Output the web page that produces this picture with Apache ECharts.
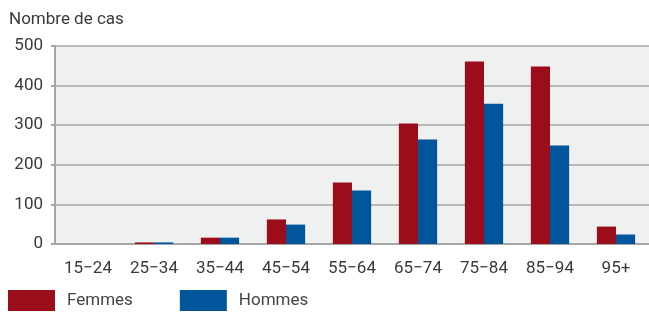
<!DOCTYPE html>
<html>
<head>
<meta charset="utf-8">
<script src="https://cdn.jsdelivr.net/npm/echarts@6/dist/echarts.min.js"></script>
<style>
  html, body { margin: 0; padding: 0; background: #fff; }
  #chart { width: 649px; height: 313px; }
</style>
</head>
<body>
<div id="chart"></div>
<script>
var categories = ['15−24', '25−34', '35−44', '45−54', '55−64', '65−74', '75−84', '85−94', '95+'];
var femmes = [0, 4, 16, 62, 155, 304, 461, 448, 44];
var hommes = [0, 4, 16, 49, 135, 264, 354, 249, 24];
var yTicks = [0, 100, 200, 300, 400, 500];

var chart = echarts.init(document.getElementById('chart'));
chart.setOption({
  animation: false,
  textStyle: { fontFamily: 'Roboto' },
  color: ['#9b0d1b', '#00559b'],
  title: {
    text: 'Nombre de cas',
    left: 9, top: 11, padding: 0,
    textStyle: { fontSize: 17, fontWeight: 'normal', color: '#3a3a3a' }
  },
  legend: {
    left: 8, bottom: 2, padding: 0,
    itemWidth: 47, itemHeight: 21, itemGap: 47,
    icon: 'rect',
    textStyle: { fontSize: 17, color: '#444', padding: [0, 0, 0, 7] },
    data: ['Femmes', 'Hommes']
  },
  grid: {
    left: 55, right: 0, top: 46, bottom: 69,
    show: true, backgroundColor: '#eff1f0', borderWidth: 0
  },
  xAxis: {
    type: 'category',
    data: categories,
    axisLine: { lineStyle: { color: '#a6a6a6', width: 2 } },
    axisTick: { show: false },
    axisLabel: { fontSize: 17, color: '#3a3a3a', margin: 16 }
  },
  yAxis: {
    type: 'value',
    min: yTicks[0], max: yTicks[yTicks.length - 1], interval: 100,
    axisLine: { show: true, lineStyle: { color: '#a6a6a6', width: 2 } },
    axisTick: { show: true, length: 4, lineStyle: { color: '#a6a6a6', width: 2 } },
    axisLabel: { fontSize: 17, color: '#3a3a3a', margin: 12 },
    splitLine: { lineStyle: { color: '#a6a6a6', width: 1.5 } }
  },
  series: [
    { name: 'Femmes', type: 'bar', data: femmes, barGap: '0%', barCategoryGap: '42%' },
    { name: 'Hommes', type: 'bar', data: hommes, barGap: '0%', barCategoryGap: '42%' }
  ]
});
</script>
</body>
</html>
